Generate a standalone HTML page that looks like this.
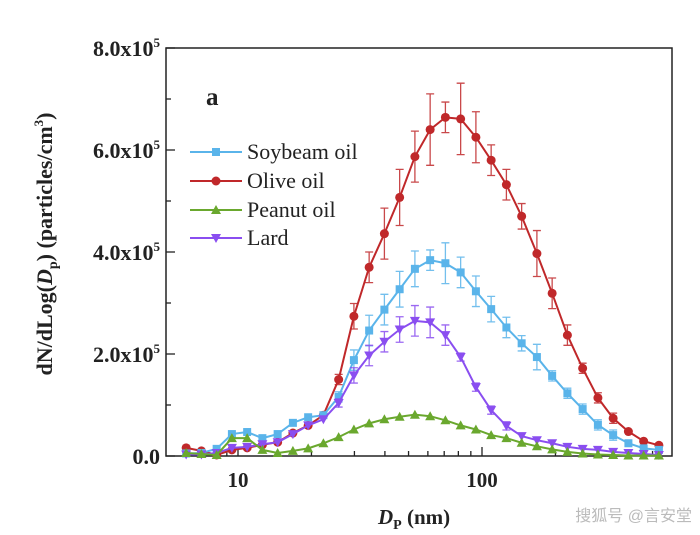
<!DOCTYPE html>
<html><head><meta charset="utf-8"><style>
body{margin:0;background:#fff;}
svg{display:block;font-family:"Liberation Serif",serif;}
</style></head><body>
<svg id="c" width="700" height="535" viewBox="0 0 700 535"></svg>
<script>
const diameters = [];
for (let n = 0; n < 32; n++) diameters.push(Math.pow(10, 1 + (n - 3.4) / 16));
const olive = [0.16,0.10,0.02,0.12,0.16,0.22,0.27,0.45,0.60,0.80,1.50,2.74,3.70,4.36,5.07,5.87,6.40,6.64,6.61,6.25,5.80,5.32,4.70,3.97,3.19,2.37,1.72,1.14,0.74,0.48,0.29,0.21];
const oliveErr = [0.05,0.05,0.05,0.05,0.05,0.05,0.05,0.05,0.05,0.05,0.1,0.25,0.3,0.5,0.55,0.5,0.7,0.3,0.7,0.5,0.3,0.3,0.25,0.45,0.3,0.2,0.1,0.1,0.1,0.05,0.05,0.05];
const soybean = [0.05,0.06,0.14,0.43,0.47,0.35,0.43,0.65,0.76,0.80,1.16,1.88,2.46,2.87,3.27,3.67,3.84,3.78,3.60,3.23,2.88,2.52,2.21,1.94,1.57,1.23,0.92,0.61,0.41,0.25,0.15,0.12];
const soybeanErr = [0.05,0.05,0.05,0.05,0.05,0.05,0.05,0.05,0.05,0.05,0.1,0.2,0.3,0.3,0.35,0.35,0.2,0.4,0.3,0.3,0.25,0.2,0.15,0.25,0.1,0.1,0.1,0.1,0.1,0.05,0.05,0.05];
const peanut = [0.06,0.04,0.02,0.35,0.35,0.12,0.06,0.10,0.15,0.25,0.37,0.52,0.64,0.72,0.77,0.81,0.78,0.70,0.60,0.52,0.41,0.35,0.26,0.19,0.13,0.08,0.05,0.03,0.02,0.01,0.01,0.01];
const peanutErr = [0.05,0.05,0.05,0.05,0.05,0.05,0.05,0.05,0.05,0.05,0.05,0.05,0.05,0.05,0.05,0.05,0.05,0.05,0.05,0.05,0.05,0.05,0.05,0.05,0.05,0.05,0.05,0.05,0.05,0.05,0.05,0.05];
const lard = [0.03,0.03,0.06,0.16,0.18,0.23,0.27,0.43,0.60,0.72,1.04,1.58,1.97,2.24,2.48,2.65,2.62,2.37,1.94,1.35,0.90,0.59,0.39,0.31,0.25,0.18,0.14,0.12,0.08,0.06,0.04,0.02];
const lardErr = [0.05,0.05,0.05,0.05,0.05,0.05,0.05,0.05,0.05,0.05,0.08,0.15,0.2,0.2,0.25,0.3,0.3,0.2,0.08,0.08,0.08,0.08,0.05,0.05,0.05,0.05,0.05,0.05,0.05,0.05,0.05,0.05];
const yTicks = [0,2,4,6,8];
const yTickLabels = ["0.0","2.0x10","4.0x10","6.0x10","8.0x10"];
const xTicks = [10,100];
const xTickLabels = ["10","100"];

const L=166,R=672,T=48,B=456;
const X = d => 238 + 244*Math.log10(d/10);
const Y = v => B - v*(B-T)/8;
const svg = document.getElementById('c');
const NS='http://www.w3.org/2000/svg';
function mk(tag, attrs, parent){const e=document.createElementNS(NS,tag);for(const k in attrs)e.setAttribute(k,attrs[k]);(parent||svg).appendChild(e);return e;}

const frame = mk('rect',{x:L,y:T,width:R-L,height:B-T,fill:'none',stroke:'#222','stroke-width':1.5});



for (let v=0; v<=8; v++){
  const t = mk('line',{x1:L,x2:L+(v%2===0?9:5),y1:Y(v),y2:Y(v),stroke:'#222','stroke-width':1.3});
  
  
}
yTicks.forEach((v,i)=>{
  const tx = mk('text',{x:L-6,y:Y(v)+8,'text-anchor':'end','font-size':22,'font-weight':'bold',fill:'#222'});
  
  
  tx.textContent = yTickLabels[i];
  if (v!==0){const s=document.createElementNS(NS,'tspan');s.setAttribute('dy','-9');s.setAttribute('font-size','13');s.textContent='5';tx.appendChild(s);}
});
for (let dec of [1,10,100]) for (let m=1;m<10;m++){
  const d=dec*m; const x=X(d); if(x<L+2||x>R-2) continue;
  const major = (m===1);
  const t = mk('line',{x1:x,x2:x,y1:B,y2:B-(major?9:5),stroke:'#222','stroke-width':1.3});
  
  
}
xTicks.forEach((d,i)=>{
  const tx = mk('text',{x:X(d),y:B+31,'text-anchor':'middle','font-size':21,'font-weight':'bold',fill:'#222'});
  
  
  tx.textContent = xTickLabels[i];
});

const series = [
  {name:'olive',vals:olive,err:oliveErr,color:'#c0282a',marker:'circle'},
  {name:'soybean',vals:soybean,err:soybeanErr,color:'#5ab4ea',marker:'square'},
  {name:'lard',vals:lard,err:lardErr,color:'#8a4ef0',marker:'down'},
  {name:'peanut',vals:peanut,err:peanutErr,color:'#6aa82e',marker:'up'}
];
function marker(type,x,y,color,g){
  let e;
  if(type==='circle') e=mk('circle',{cx:x,cy:y,r:4.5,fill:color},g);
  else if(type==='square') e=mk('rect',{x:x-4,y:y-4,width:8,height:8,fill:color},g);
  else if(type==='up') e=mk('polygon',{points:`${x},${y-5} ${x-5},${y+4} ${x+5},${y+4}`,fill:color},g);
  else e=mk('polygon',{points:`${x},${y+5} ${x-5},${y-4} ${x+5},${y-4}`,fill:color},g);
  return e;
}
series.forEach(s=>{
  const g = mk('g',{});
  
  
  s.vals.forEach((v,i)=>{
    const x=X(diameters[i]), e=s.err[i];
    if(e>0.06){
      const eb = mk('path',{d:`M${x},${Y(v-e)}V${Y(v+e)}M${x-4},${Y(v-e)}h8M${x-4},${Y(v+e)}h8`,stroke:s.color,'stroke-width':1.3,fill:'none',opacity:0.85},g);
      
      
    }
  });
  const pts = s.vals.map((v,i)=>X(diameters[i])+','+Y(v)).join(' ');
  const ln = mk('polyline',{points:pts,fill:'none',stroke:s.color,'stroke-width':2},g);
  
  
  s.vals.forEach((v,i)=>{
    const m = marker(s.marker,X(diameters[i]),Y(v),s.color,g);
    
    
  });
});

const leg = [['Soybeam oil','#5ab4ea','square',152],['Olive oil','#c0282a','circle',181],['Peanut oil','#6aa82e','up',210],['Lard','#8a4ef0','down',238]];
const lg = mk('g',{});


leg.forEach(l=>{
  const ln=mk('line',{x1:190,x2:242,y1:l[3],y2:l[3],stroke:l[1],'stroke-width':2},lg);
  
  
  const m=marker(l[2],216,l[3],l[1],lg);
  
  
  const t=mk('text',{x:247,y:l[3]+7,'font-size':22,fill:'#222'},lg);
  
  
  t.textContent=l[0];
});
</script>
<div style="position:absolute;left:0;top:0;width:700px;height:535px;pointer-events:none">
<svg width="700" height="535" style="position:absolute;left:0;top:0">
<text x="206" y="105" font-size="25" font-weight="bold" fill="#222" font-family="Liberation Serif,serif">a</text>
<text transform="translate(52,244) rotate(-90)" text-anchor="middle" font-size="22" font-weight="bold" fill="#222" font-family="Liberation Serif,serif">dN/dLog(<tspan font-style="italic">D</tspan><tspan font-size="14" dy="5">p</tspan><tspan dy="-5">)  (particles/cm</tspan><tspan font-size="13" dy="-9">3</tspan><tspan dy="9">)</tspan></text>
<text x="378" y="524" font-size="21" font-weight="bold" fill="#222" font-family="Liberation Serif,serif"><tspan font-style="italic">D</tspan><tspan font-size="14" dy="5">P</tspan><tspan dy="-5"> (nm)</tspan></text>
<text x="692" y="521" text-anchor="end" font-size="16" fill="#bbb" font-family="Liberation Sans,Noto Sans CJK SC,sans-serif">搜狐号 @言安堂</text>
</svg></div>
</body></html>
